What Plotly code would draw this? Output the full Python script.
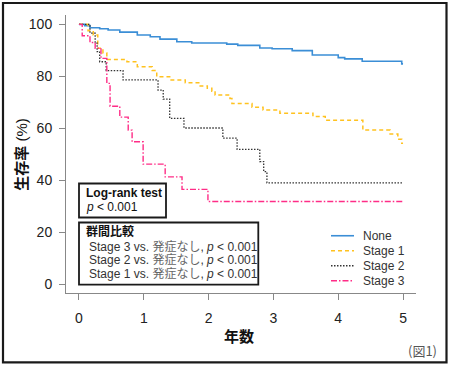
import plotly.graph_objects as go

# ---- data (years, survival %) ----
none_t = [0, 0.09, 0.17, 0.32, 0.45, 0.63, 0.90, 1.10, 1.25, 1.51, 1.74, 2.28, 2.45, 2.79, 2.98, 3.29, 3.60, 4.00, 4.10, 4.37, 4.98, 5.0]
none_s = [100, 99.5, 98.7, 98.3, 97.8, 97.0, 95.9, 95.2, 94.3, 93.3, 92.8, 92.4, 91.9, 90.9, 90.6, 89.9, 88.2, 87.2, 86.7, 85.8, 84.8, 84.8]

s1_t = [0, 0.14, 0.22, 0.29, 0.37, 0.43, 0.74, 0.90, 1.13, 1.20, 1.40, 1.64, 1.87, 1.98, 2.05, 2.10, 2.33, 2.36, 2.67, 2.84, 3.10, 3.61, 3.80, 4.38, 4.80, 4.92, 4.98, 5.0]
s1_s = [100, 97.5, 95.9, 90.8, 89.0, 86.5, 85.6, 83.7, 82.2, 79.8, 78.6, 77.5, 76.3, 75.4, 74.3, 72.8, 71.5, 69.5, 68.1, 67.0, 65.8, 64.5, 63.1, 59.3, 57.8, 55.8, 54.2, 54.2]

s2_t = [0, 0.17, 0.25, 0.28, 0.32, 0.42, 0.68, 1.22, 1.30, 1.40, 1.62, 2.22, 2.44, 2.79, 2.85, 2.90, 5.0]
s2_s = [100, 96.6, 92.8, 89.5, 85.6, 82.2, 78.6, 74.7, 71.2, 63.8, 60.1, 56.2, 51.9, 47.2, 43.3, 39.0, 39.0]

s3_t = [0, 0.05, 0.17, 0.25, 0.34, 0.43, 0.48, 0.63, 0.76, 0.82, 0.99, 1.33, 1.59, 1.99, 5.0]
s3_s = [100, 95.6, 93.0, 90.8, 86.9, 77.3, 68.5, 64.3, 59.3, 54.8, 46.2, 41.3, 36.5, 31.8, 31.8]

series_names = ["None", "Stage 1", "Stage 2", "Stage 3"]
x_ticks = [0, 1, 2, 3, 4, 5]
y_ticks = [0, 20, 40, 60, 80, 100]
logrank_lines = ["<b>Log-rank test</b>", "<i>p</i> < 0.001"]
comp_title = "<b>群間比較</b>"
comp_lines = [
    "Stage 3 vs. <span style='color:#666'>発症なし</span>, <i>p</i> < 0.001",
    "Stage 2 vs. <span style='color:#666'>発症なし</span>, <i>p</i> < 0.001",
    "Stage 1 vs. <span style='color:#666'>発症なし</span>, <i>p</i> < 0.001",
]

colors = ["#3b8ed6", "#ffc21f", "#333333", "#ff2d87"]
dashes = ["solid", "4px,3px", "1.5px,1.5px", "6px,2px,1.5px,2px"]
widths = [1.6, 1.5, 1.3, 1.4]

W, H = 450, 367
L, R, T, B = 66, 416, 15, 292.7


def px(x):
    return (x - L) / (R - L)


def py(y):
    return (B - y) / (B - T)


fig = go.Figure()
for t, s, name, c, d, w in zip([none_t, s1_t, s2_t, s3_t], [none_s, s1_s, s2_s, s3_s],
                               series_names, colors, dashes, widths):
    fig.add_trace(go.Scatter(x=t, y=s, mode="lines", name=name, line_shape="hv",
                             line=dict(color=c, dash=d, width=w), showlegend=False))

font_main = "Liberation Sans, Arial, Noto Sans CJK JP, sans-serif"
font_cjk = "Liberation Sans, Arial, Noto Sans CJK JP, sans-serif"

shapes = []
annotations = []

# outer frame
shapes.append(dict(type="rect", xref="paper", yref="paper", x0=px(3), x1=px(446.5), y0=py(362), y1=py(3),
                   line=dict(color="#1a1a1a", width=2.2)))

# text boxes
shapes.append(dict(type="rect", xref="paper", yref="paper", x0=px(79), x1=px(166), y0=py(217.3), y1=py(183.3),
                   line=dict(color="#1a1a1a", width=1.8), fillcolor="white", layer="above"))
shapes.append(dict(type="rect", xref="paper", yref="paper", x0=px(79), x1=px(258.3), y0=py(284.3), y1=py(222.3),
                   line=dict(color="#1a1a1a", width=1.8), fillcolor="white", layer="above"))

for txt, yy in zip(logrank_lines, [193.3, 206.5]):
    annotations.append(dict(text=txt, xref="paper", yref="paper", x=px(84), y=py(yy), xanchor="left",
                            yanchor="middle", showarrow=False, font=dict(size=12, color="#111", family=font_main)))
annotations.append(dict(text=comp_title, xref="paper", yref="paper", x=px(84), y=py(231.5), xanchor="left",
                        yanchor="middle", showarrow=False, font=dict(size=12, color="#111", family=font_cjk)))
for txt, yy in zip(comp_lines, [246.3, 260, 273.7]):
    annotations.append(dict(text=txt, xref="paper", yref="paper", x=px(87), y=py(yy), xanchor="left",
                            yanchor="middle", showarrow=False, font=dict(size=12, color="#333", family=font_cjk)))

# legend
for i, (name, c, d, w) in enumerate(zip(series_names, colors, dashes, widths)):
    yy = 235.5 + i * 15
    shapes.append(dict(type="line", xref="paper", yref="paper", x0=px(331), x1=px(354), y0=py(yy), y1=py(yy),
                       line=dict(color=c, dash=d, width=w)))
    annotations.append(dict(text=name, xref="paper", yref="paper", x=px(361), y=py(yy + 0.5), xanchor="left",
                            yanchor="middle", showarrow=False, font=dict(size=12, color="#333", family=font_main)))

# axis titles
annotations.append(dict(text="<b>生存率</b> (%)", xref="paper", yref="paper", x=px(21.5), y=py(154),
                        xanchor="center", yanchor="middle", textangle=-90, showarrow=False,
                        font=dict(size=15, color="#111", family=font_cjk)))
annotations.append(dict(text="<b>年数</b>", xref="paper", yref="paper", x=px(239), y=py(336),
                        xanchor="center", yanchor="middle", showarrow=False,
                        font=dict(size=15, color="#111", family=font_cjk)))
annotations.append(dict(text="(図1)", xref="paper", yref="paper", x=px(439), y=py(350),
                        xanchor="right", yanchor="middle", showarrow=False,
                        font=dict(size=13, color="#555", family="Noto Sans CJK JP, sans-serif")))

fig.update_layout(
    width=W, height=H,
    margin=dict(l=L, r=W - R, t=T, b=H - B),
    paper_bgcolor="white", plot_bgcolor="white",
    shapes=shapes, annotations=annotations,
    showlegend=False,
    xaxis=dict(range=[-0.2, 5.2], tickvals=x_ticks, ticktext=[str(v) for v in x_ticks],
               showgrid=False, zeroline=False, showline=True, linecolor="#888", linewidth=1,
               ticks="outside", ticklen=6, tickcolor="#888", automargin=False,
               tickfont=dict(size=14, color="#222", family=font_main), ticklabelstandoff=6),
    yaxis=dict(range=[-3.4, 103.6], tickvals=y_ticks, ticktext=[str(v) for v in y_ticks],
               showgrid=False, zeroline=False, showline=True, linecolor="#888", linewidth=1,
               ticks="outside", ticklen=6, tickcolor="#888", automargin=False,
               tickfont=dict(size=14, color="#222", family=font_main), ticklabelstandoff=4),
)

fig.write_html("out.html", config={"displayModeBar": False},
               post_script="document.body.style.margin='0';")
